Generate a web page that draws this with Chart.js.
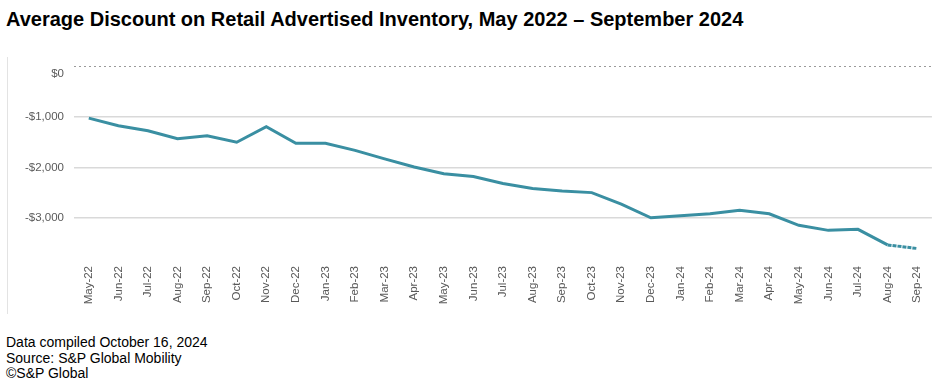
<!DOCTYPE html>
<html>
<head>
<meta charset="utf-8">
<script src="https://cdn.jsdelivr.net/npm/chart.js@4.4.1/dist/chart.umd.min.js"></script>
<style>
    html, body { margin: 0; padding: 0; background: #fff; }
    body { width: 936px; height: 391px; position: relative; overflow: hidden; font-family: 'Liberation Sans', Arial, sans-serif; }
    .title { position: absolute; left: 6px; top: 8px; font-size: 20px; font-weight: bold; color: #000; white-space: nowrap; }
    .frame { position: absolute; left: 7px; top: 57px; width: 1px; height: 257px; background: #e3e3e3; }
    .chart-wrap { position: absolute; left: 0; top: 43px; width: 936px; height: 277px; }
    .notes { position: absolute; left: 6px; top: 335px; font-size: 14px; line-height: 15.5px; color: #000; }
</style>
</head>
<body>
<div class="title">Average Discount on Retail Advertised Inventory, May 2022 – September 2024</div>
<div class="frame"></div>
<div class="chart-wrap"><canvas id="discountChart" width="936" height="277"></canvas></div>
<div class="notes">Data compiled October 16, 2024<br>Source: S&amp;P Global Mobility<br>©S&amp;P Global</div>

<script>
const months = [
    'May-22', 'Jun-22', 'Jul-22', 'Aug-22', 'Sep-22', 'Oct-22', 'Nov-22', 'Dec-22',
    'Jan-23', 'Feb-23', 'Mar-23', 'Apr-23', 'May-23', 'Jun-23', 'Jul-23', 'Aug-23',
    'Sep-23', 'Oct-23', 'Nov-23', 'Dec-23',
    'Jan-24', 'Feb-24', 'Mar-24', 'Apr-24', 'May-24', 'Jun-24', 'Jul-24', 'Aug-24', 'Sep-24'
];

const avgDiscount = [
    -1020, -1170, -1270, -1430, -1370, -1500, -1190, -1520,
    -1520, -1660, -1830, -1990, -2125, -2180, -2320, -2420,
    -2470, -2500, -2730, -3000,
    -2960, -2920, -2850, -2920, -3150, -3250, -3230, -3540, -3610
];

const yTicks = [0, -1000, -2000, -3000];

const labelGrey = '#595959';
const lineTeal = '#3a8fa2';
const tickFont = { family: "'Liberation Sans', Arial, sans-serif", size: 11.5 };

const ctx = document.getElementById('discountChart');

new Chart(ctx, {
    type: 'line',
    data: {
        labels: months,
        datasets: [{
            data: avgDiscount,
            borderColor: lineTeal,
            borderWidth: 3,
            pointRadius: 0,
            tension: 0,
            fill: false,
            segment: {
                // last month drawn dotted, as in the source
                borderDash: (c) => c.p0DataIndex === avgDiscount.length - 2 ? [4, 1] : undefined
            }
        }]
    },
    options: {
        responsive: false,
        animation: false,
        layout: {
            padding: { top: 16, right: 4, left: 0, bottom: 0 }
        },
        plugins: {
            legend: { display: false },
            tooltip: { enabled: false }
        },
        scales: {
            x: {
                offset: true,
                grid: { display: false },
                border: { display: false },
                ticks: {
                    color: labelGrey,
                    font: tickFont,
                    minRotation: 90,
                    maxRotation: 90,
                    autoSkip: false,
                    padding: 5
                },
                afterFit: (scale) => { scale.height = 67; }
            },
            y: {
                min: -3700,
                max: 0,
                afterBuildTicks: (scale) => {
                    scale.ticks = [{ value: -3700 }].concat(yTicks.slice().reverse().map(v => ({ value: v })));
                },
                grid: {
                    color: (c) => {
                        const v = c.tick ? c.tick.value : null;
                        if (v === 0) return '#9a9a9a';
                        if (yTicks.includes(v)) return '#d9d9d9';
                        return 'rgba(0,0,0,0)';
                    },
                    lineWidth: (c) => (c.tick && c.tick.value === 0) ? 1 : 1.5,
                    drawTicks: false
                },
                border: {
                    display: false,
                    dash: (c) => (c.tick && c.tick.value === 0) ? [2, 3] : []
                },
                ticks: {
                    color: labelGrey,
                    font: tickFont,
                    padding: 10,
                    callback: (value) => {
                        if (!yTicks.includes(value)) return '';
                        // the $0 label sits a little under its line in the source
                        if (value === 0) return ['', '$0'];
                        return '-$' + Math.abs(value).toLocaleString('en-US');
                    }
                },
                afterFit: (scale) => { scale.width = 74; }
            }
        }
    }
});
</script>
</body>
</html>
